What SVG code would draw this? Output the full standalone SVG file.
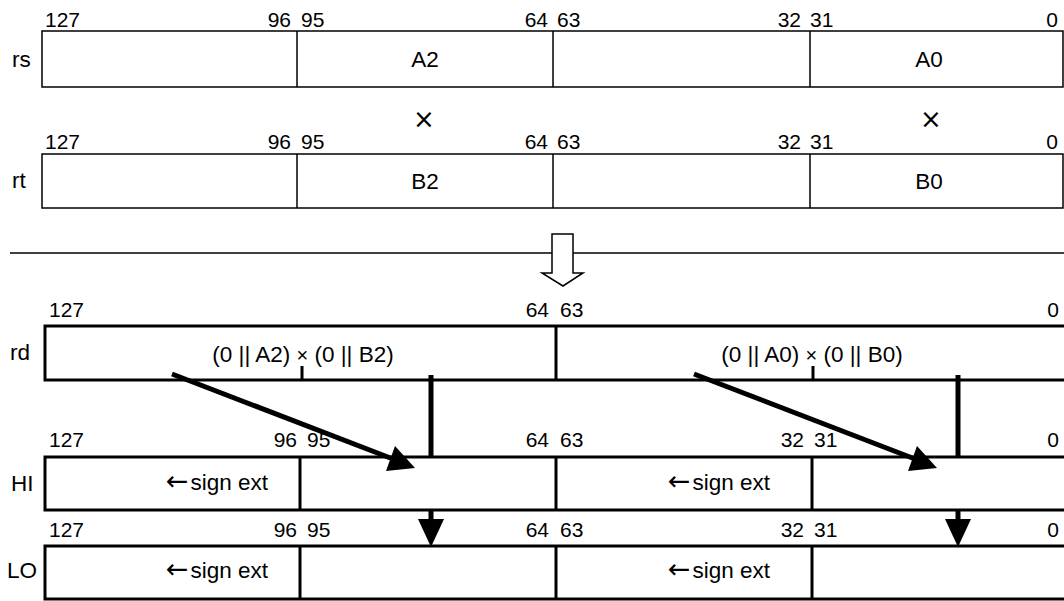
<svg xmlns="http://www.w3.org/2000/svg" width="1064" height="601" viewBox="0 0 1064 601">
<style>
text{font-family:"Liberation Sans",Arial,sans-serif;font-size:21px;fill:#000}
.e{text-anchor:end}
.m{text-anchor:middle}
.thin{fill:#fff;stroke:#000;stroke-width:1.5}
.thinl{stroke:#000;stroke-width:1.5;fill:none}
.thick{fill:#fff;stroke:#000;stroke-width:3}
.thickl{stroke:#000;stroke-width:3;fill:none}
.big{font-size:22.5px}
.x{font-family:"DejaVu Sans",sans-serif;font-size:26px}
.ar{font-family:"DejaVu Sans",sans-serif;font-size:27px}
.c{stroke:#000;stroke-width:5;fill:none}
.h{fill:#000;stroke:none}
</style>
<g id="rs">
<rect class="thin" x="42" y="31" width="1021" height="56"/>
<line class="thinl" x1="297" y1="31" x2="297" y2="87"/>
<line class="thinl" x1="553" y1="31" x2="553" y2="87"/>
<line class="thinl" x1="810" y1="31" x2="810" y2="87"/>
<text x="12" y="67" class="big">rs</text>
<text x="45" y="27">127</text><text x="291" y="27" class="e">96</text><text x="301" y="27">95</text>
<text x="548" y="27" class="e">64</text><text x="557" y="27">63</text>
<text x="801" y="27" class="e">32</text><text x="810" y="27">31</text>
<text x="1058" y="27" class="e">0</text>
<text x="425" y="67" class="m big">A2</text>
<text x="929" y="67" class="m big">A0</text>
</g>
<g id="mul">
<text x="424" y="128" class="m x">×</text>
<text x="931" y="128" class="m x">×</text>
</g>
<g id="rt">
<rect class="thin" x="42" y="154" width="1021" height="54"/>
<line class="thinl" x1="297" y1="154" x2="297" y2="208"/>
<line class="thinl" x1="553" y1="154" x2="553" y2="208"/>
<line class="thinl" x1="810" y1="154" x2="810" y2="208"/>
<text x="12" y="188" class="big">rt</text>
<text x="45" y="149">127</text><text x="291" y="149" class="e">96</text><text x="301" y="149">95</text>
<text x="548" y="149" class="e">64</text><text x="557" y="149">63</text>
<text x="801" y="149" class="e">32</text><text x="810" y="149">31</text>
<text x="1058" y="149" class="e">0</text>
<text x="425" y="189" class="m big">B2</text>
<text x="929" y="189" class="m big">B0</text>
</g>
<g id="separator">
<line class="thinl" x1="10" y1="253" x2="1064" y2="253"/>
<polygon class="thin" points="552,234 573,234 573,273 583,273 563,286 542,273 552,273"/>
</g>
<g id="rd">
<rect class="thick" x="45" y="326" width="1030" height="54"/>
<line class="thickl" x1="556" y1="326" x2="556" y2="380"/>
<line class="thickl" x1="302" y1="366" x2="302" y2="380"/>
<line class="thickl" x1="813" y1="366" x2="813" y2="380"/>
<text x="10" y="360" class="big">rd</text>
<text x="49" y="317">127</text><text x="549" y="317" class="e">64</text><text x="560" y="317">63</text>
<text x="1059" y="317" class="e">0</text>
<text x="303" y="362" class="m big">(0 || A2) <tspan font-size="20">×</tspan> (0 || B2)</text>
<text x="812" y="362" class="m big">(0 || A0) <tspan font-size="20">×</tspan> (0 || B0)</text>
</g>
<g id="HI">
<rect class="thick" x="45" y="457" width="1030" height="53"/>
<line class="thickl" x1="300" y1="457" x2="300" y2="510"/>
<line class="thickl" x1="556" y1="457" x2="556" y2="510"/>
<line class="thickl" x1="812" y1="457" x2="812" y2="510"/>
<text x="11" y="491" class="big">HI</text>
<text x="49" y="447">127</text><text x="297" y="447" class="e">96</text><text x="307" y="447">95</text>
<text x="549" y="447" class="e">64</text><text x="560" y="447">63</text>
<text x="804" y="447" class="e">32</text><text x="814" y="447">31</text>
<text x="1059" y="447" class="e">0</text>
<text x="268" y="490" class="e big"><tspan class="ar">←</tspan><tspan dx="2">sign ext</tspan></text>
<text x="770" y="490" class="e big"><tspan class="ar">←</tspan><tspan dx="2">sign ext</tspan></text>
</g>
<g id="LO">
<rect class="thick" x="45" y="546" width="1030" height="53"/>
<line class="thickl" x1="300" y1="546" x2="300" y2="599"/>
<line class="thickl" x1="556" y1="546" x2="556" y2="599"/>
<line class="thickl" x1="812" y1="546" x2="812" y2="599"/>
<text x="7" y="578" class="big">LO</text>
<text x="49" y="537">127</text><text x="297" y="537" class="e">96</text><text x="307" y="537">95</text>
<text x="549" y="537" class="e">64</text><text x="560" y="537">63</text>
<text x="804" y="537" class="e">32</text><text x="814" y="537">31</text>
<text x="1059" y="537" class="e">0</text>
<text x="268" y="578" class="e big"><tspan class="ar">←</tspan><tspan dx="2">sign ext</tspan></text>
<text x="770" y="578" class="e big"><tspan class="ar">←</tspan><tspan dx="2">sign ext</tspan></text>
</g>
<g id="connectors">
<line class="c" x1="172" y1="374" x2="393" y2="459"/>
<polygon class="h" points="415,468 386,471 395,446"/>
<line class="c" x1="694" y1="374" x2="915" y2="459"/>
<polygon class="h" points="937,468 908,471 917,446"/>
<line class="c" x1="431" y1="375" x2="431" y2="457"/>
<line class="c" x1="431" y1="510" x2="431" y2="522"/>
<polygon class="h" points="418,519 444,519 431,547"/>
<line class="c" x1="958" y1="375" x2="958" y2="457"/>
<line class="c" x1="958" y1="510" x2="958" y2="522"/>
<polygon class="h" points="945,519 971,519 958,547"/>
</g>
</svg>
